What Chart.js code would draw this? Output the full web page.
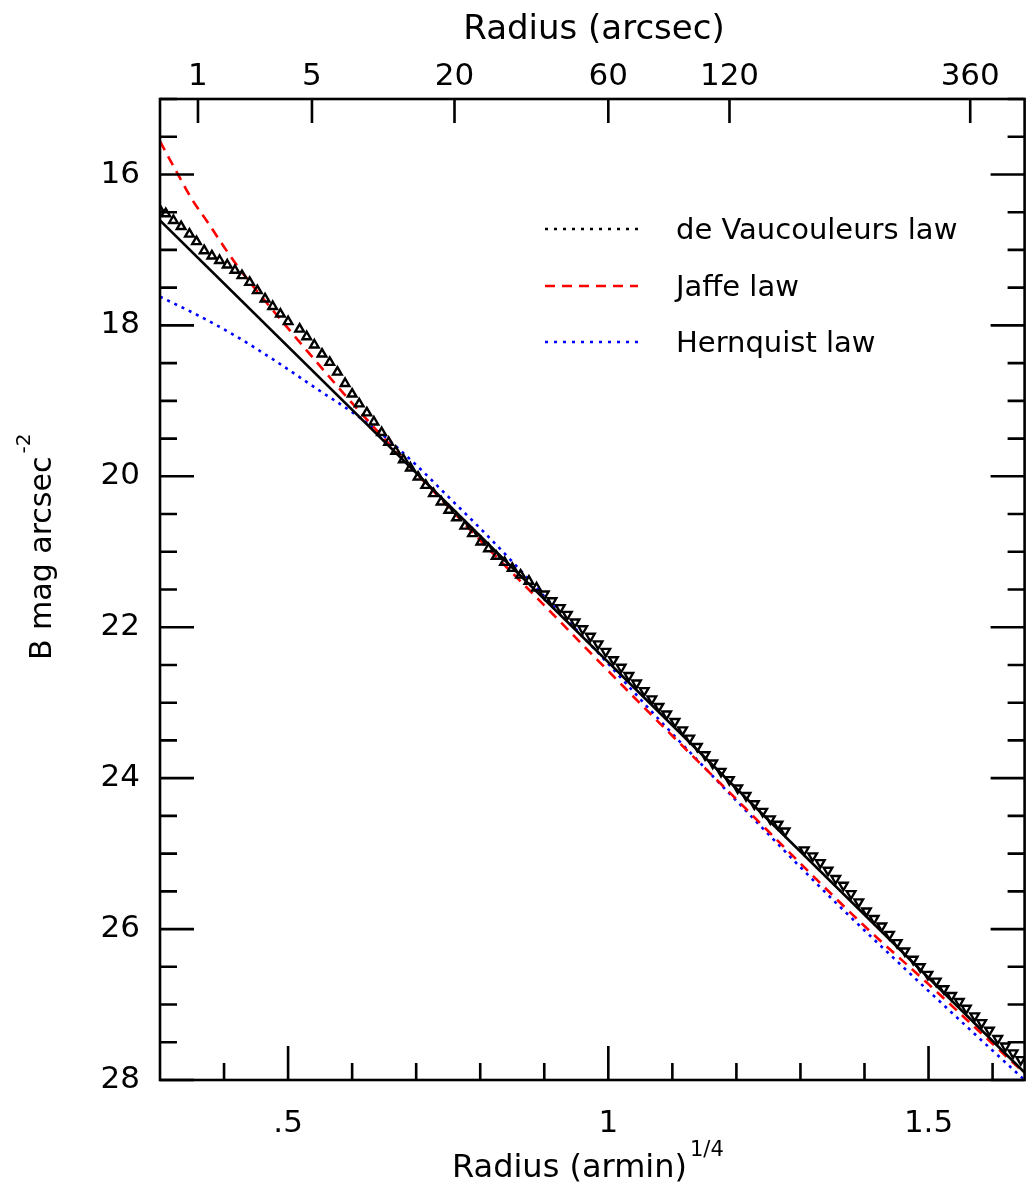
<!DOCTYPE html>
<html>
<head>
<meta charset="utf-8">
<script src="https://cdn.jsdelivr.net/npm/chart.js@4/dist/chart.umd.min.js"></script>
<style>
  html, body { margin: 0; padding: 0; background: #fff; }
  #wrap { width: 1032px; height: 1188px; position: relative; }
</style>
</head>
<body>
<div id="wrap"><canvas id="chart"></canvas></div>
<script>
// Observed profile, radius in (arcmin)^1/4 and B mag arcsec^-2
const obsX = [0.299,0.309,0.321,0.333,0.346,0.357,0.369,0.381,0.393,0.405,0.417,0.428,0.440,0.452,0.464,0.476,0.488,0.500,
  0.518,0.529,0.541,0.553,0.565,0.577,0.589,0.600,0.611,0.623,0.634,0.646,0.657,0.668,0.680,0.691,0.703,0.715,0.727,0.739,
  0.751,0.763,0.776,0.788,0.801,0.813,0.825,0.838,0.850,0.863,0.876,0.888,0.900,0.912,0.925,0.936,0.948,0.960,0.972,0.984,
  0.996,1.008,1.020,1.032,1.044,1.056,1.068,1.079,1.091,1.104,1.116,1.127,1.139,1.151,1.163,1.176,1.189,1.202,1.215,1.228,
  1.241,1.253,1.265,1.276,1.306,1.319,1.331,1.343,1.355,1.367,1.379,1.391,1.403,1.415,1.427,1.439,1.451,1.463,1.476,1.487,
  1.499,1.512,1.524,1.536,1.548,1.559,1.572,1.583,1.595,1.608,1.620,1.632,1.644];
const obsMag = [16.46,16.52,16.61,16.69,16.79,16.89,17.01,17.08,17.14,17.20,17.27,17.34,17.43,17.54,17.65,17.75,17.85,17.95,
  18.05,18.15,18.26,18.38,18.49,18.62,18.77,18.91,19.04,19.16,19.28,19.42,19.55,19.67,19.78,19.89,20.01,20.12,20.23,20.34,
  20.45,20.55,20.66,20.76,20.87,20.96,21.06,21.14,21.22,21.31,21.39,21.48,21.56,21.65,21.74,21.83,21.93,22.02,22.12,22.22,
  22.32,22.43,22.53,22.64,22.74,22.84,22.95,23.05,23.15,23.25,23.36,23.47,23.58,23.69,23.80,23.91,24.02,24.13,24.23,24.34,
  24.44,24.54,24.61,24.70,24.95,25.03,25.12,25.22,25.33,25.42,25.53,25.64,25.76,25.86,25.96,26.07,26.18,26.29,26.40,26.50,
  26.60,26.69,26.79,26.88,26.96,27.05,27.15,27.24,27.34,27.45,27.55,27.64,27.73];

// de Vaucouleurs fit (straight line)
const devX = [0.30, 1.65];
const devMag = [16.61, 27.90];

// Jaffe fit
const jafX = [0.30,0.33,0.35,0.375,0.40,0.425,0.45,0.50,0.55,0.60,0.65,0.70,0.75,0.80,0.85,0.90,0.97,1.08,1.20,1.30,1.40,1.50,1.60,1.65];
const jafMag = [15.56,16.03,16.33,16.64,16.96,17.26,17.53,18.04,18.54,19.03,19.50,19.96,20.40,20.85,21.28,21.71,22.32,23.27,24.28,25.13,25.96,26.73,27.52,27.91];

// Hernquist fit
const herX = [0.30,0.36,0.42,0.48,0.55,0.60,0.65,0.70,0.75,0.80,0.85,0.90,0.97,1.08,1.20,1.30,1.36,1.45,1.50,1.60,1.65];
const herMag = [17.62,17.87,18.15,18.47,18.87,19.15,19.47,19.85,20.27,20.69,21.13,21.59,22.21,23.23,24.30,25.18,25.69,26.42,26.82,27.61,28.00];

// tick labels
const xTickValues = [0.5, 1, 1.5];
const xTickLabels = ['.5', '1', '1.5'];
const yTickValues = [16, 18, 20, 22, 24, 26, 28];
const topArcsec = [1, 5, 20, 60, 120, 360];
const topLabels = ['1', '5', '20', '60', '120', '360'];

const FONT = '"DejaVu Sans", sans-serif';
const FLIP_AT = 0.89; // markers drawn upside down beyond this radius

function pts(xs, ys) {
    return xs.map((x, i) => ({ x: x, y: ys[i] }));
}

// frame, inward ticks, titles and legend
const decorations = {
    id: 'decorations',
    afterDraw(chart) {
        const ctx = chart.ctx;
        const a = chart.chartArea;
        const sx = chart.scales.x, sy = chart.scales.y, st = chart.scales.x2;
        ctx.save();
        ctx.strokeStyle = '#000';
        ctx.lineWidth = 2.6;
        ctx.setLineDash([]);
        ctx.strokeRect(a.left, a.top, a.right - a.left, a.bottom - a.top);
        ctx.beginPath();
        for (let i = 4; i <= 16; i++) {
            const px = sx.getPixelForValue(i / 10);
            const len = (i % 5 === 0) ? 34 : 17;
            ctx.moveTo(px, a.bottom);
            ctx.lineTo(px, a.bottom - len);
        }
        st.ticks.forEach(t => {
            const px = st.getPixelForValue(t.value);
            ctx.moveTo(px, a.top);
            ctx.lineTo(px, a.top + 24);
        });
        for (let m = 15; m <= 28; m += 0.5) {
            const py = sy.getPixelForValue(m);
            const len = (m % 2 === 0) ? 34 : 17;
            ctx.moveTo(a.left, py);
            ctx.lineTo(a.left + len, py);
            ctx.moveTo(a.right, py);
            ctx.lineTo(a.right - len, py);
        }
        ctx.stroke();

        // axis titles
        ctx.fillStyle = '#000';
        ctx.textBaseline = 'alphabetic';
        ctx.font = '34px ' + FONT;
        ctx.textAlign = 'center';
        ctx.fillText('Radius (arcsec)', 594, 39);

        ctx.textAlign = 'left';
        ctx.font = '32px ' + FONT;
        const bt = 'Radius (armin)';
        ctx.fillText(bt, 452, 1177);
        const bw = ctx.measureText(bt).width;
        ctx.font = '21px ' + FONT;
        ctx.fillText('1/4', 452 + bw + 3, 1156);

        ctx.save();
        ctx.translate(51, 660);
        ctx.rotate(-Math.PI / 2);
        ctx.font = '30px ' + FONT;
        const lt = 'B mag arcsec';
        ctx.fillText(lt, 0, 0);
        const lw = ctx.measureText(lt).width;
        ctx.font = '20px ' + FONT;
        ctx.fillText('-2', lw + 3, -21);
        ctx.restore();

        // legend
        const rows = [229, 286, 342];
        let r = 0;
        chart.data.datasets.forEach(ds => {
            if (!ds.inLegend) return;
            const y = rows[r++];
            ctx.beginPath();
            ctx.strokeStyle = ds.borderColor;
            ctx.lineWidth = 2.6;
            ctx.setLineDash(ds.legendDash);
            ctx.moveTo(545, y);
            ctx.lineTo(638, y);
            ctx.stroke();
            ctx.setLineDash([]);
            ctx.fillStyle = '#000';
            ctx.font = '29px ' + FONT;
            ctx.textAlign = 'left';
            ctx.fillText(ds.label, 676, y + 10);
        });
        ctx.restore();
    }
};

const chart = new Chart(document.getElementById('chart'), {
    type: 'scatter',
    data: {
        datasets: [
            {
                label: 'data',
                data: pts(obsX, obsMag),
                order: 0,
                pointStyle: 'triangle',
                pointRadius: 5,
                pointBorderWidth: 2.4,
                pointBorderColor: '#000',
                pointBackgroundColor: 'rgba(255,255,255,0)',
                rotation: ctx => (ctx.raw && ctx.raw.x > FLIP_AT) ? 180 : 0,
                clip: 0
            },
            {
                label: 'de Vaucouleurs law',
                inLegend: true,
                legendDash: [3, 6],
                data: pts(devX, devMag),
                order: 1,
                showLine: true,
                borderColor: '#000',
                borderWidth: 2.6,
                pointRadius: 0
            },
            {
                label: 'Jaffe law',
                inLegend: true,
                legendDash: [10, 7],
                data: pts(jafX, jafMag),
                order: 2,
                showLine: true,
                borderColor: '#ff0000',
                borderWidth: 2.6,
                borderDash: [10, 7],
                cubicInterpolationMode: 'monotone',
                pointRadius: 0
            },
            {
                label: 'Hernquist law',
                inLegend: true,
                legendDash: [3, 6],
                data: pts(herX, herMag),
                order: 3,
                showLine: true,
                borderColor: '#0000ff',
                borderWidth: 2.6,
                borderDash: [3, 5],
                cubicInterpolationMode: 'monotone',
                pointRadius: 0
            }
        ]
    },
    options: {
        responsive: true,
        maintainAspectRatio: false,
        animation: false,
        layout: { padding: { left: 0, right: 3, top: 0, bottom: 0 } },
        plugins: { legend: { display: false }, tooltip: { enabled: false } },
        scales: {
            x: {
                type: 'linear',
                position: 'bottom',
                min: 0.3,
                max: 1.65,
                grid: { display: false, drawTicks: false },
                border: { display: false },
                afterBuildTicks: s => { s.ticks = xTickValues.map(v => ({ value: v })); },
                afterFit: s => { s.height = 108; },
                ticks: {
                    color: '#000',
                    font: { family: FONT, size: 31 },
                    padding: 25,
                    autoSkip: false,
                    maxRotation: 0,
                    callback: v => {
                        const i = xTickValues.indexOf(v);
                        return i >= 0 ? xTickLabels[i] : '';
                    }
                }
            },
            x2: {
                type: 'linear',
                position: 'top',
                min: 0.3,
                max: 1.65,
                grid: { display: false, drawTicks: false },
                border: { display: false },
                afterBuildTicks: s => { s.ticks = topArcsec.map(a => ({ value: Math.pow(a / 60, 0.25) })); },
                afterFit: s => { s.height = 99; },
                ticks: {
                    color: '#000',
                    font: { family: FONT, size: 31 },
                    padding: 3,
                    autoSkip: false,
                    maxRotation: 0,
                    callback: (v, i) => topLabels[i]
                }
            },
            y: {
                type: 'linear',
                position: 'left',
                reverse: true,
                min: 15,
                max: 28,
                grid: { display: false, drawTicks: false },
                border: { display: false },
                afterBuildTicks: s => { s.ticks = yTickValues.map(v => ({ value: v })); },
                afterFit: s => { s.width = 160; },
                ticks: {
                    color: '#000',
                    font: { family: FONT, size: 31 },
                    padding: 20,
                    callback: v => String(v)
                }
            }
        }
    },
    plugins: [decorations]
});
</script>
</body>
</html>
